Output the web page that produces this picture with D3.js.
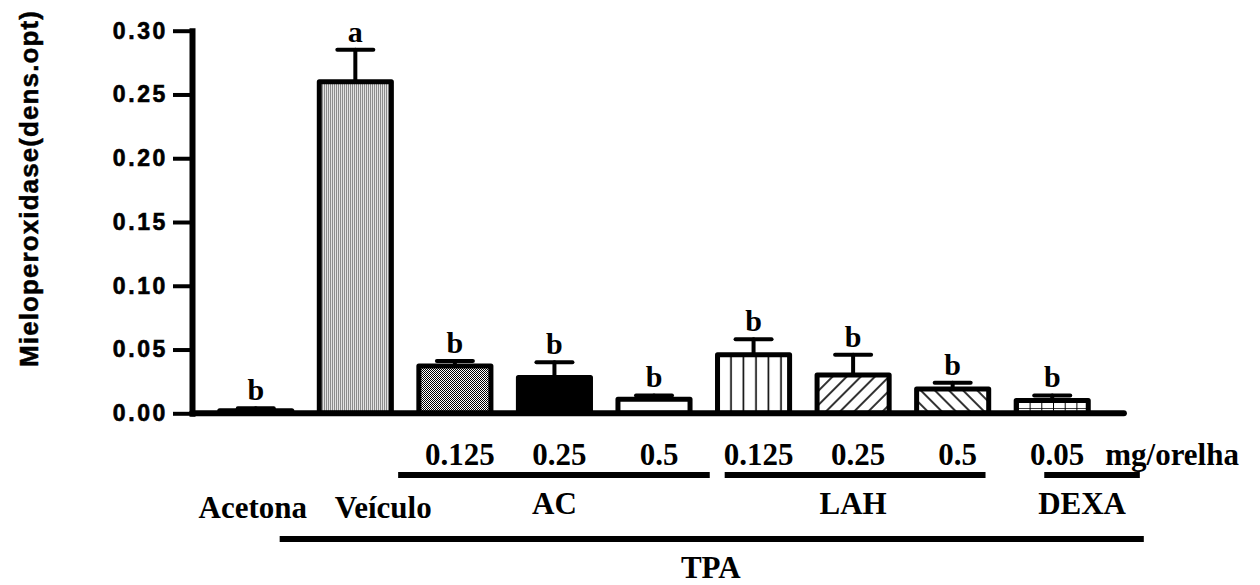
<!DOCTYPE html>
<html>
<head>
<meta charset="utf-8">
<script src="https://cdn.jsdelivr.net/npm/d3@7"></script>
<style>
  body { margin: 0; background: #fff; }
  svg { display: block; }
</style>
</head>
<body>
<svg id="chart" width="1260" height="585"></svg>
<script>
// ---- data ----
const groups = ["Acetona", "Veículo", "AC 0.125", "AC 0.25", "AC 0.5", "LAH 0.125", "LAH 0.25", "LAH 0.5", "DEXA 0.05"];
const means  = [0.002, 0.260, 0.037, 0.028, 0.011, 0.046, 0.030, 0.019, 0.010];
const errors = [0.002, 0.025, 0.004, 0.012, 0.003, 0.012, 0.016, 0.005, 0.004];
const letters = ["b", "a", "b", "b", "b", "b", "b", "b", "b"];
const fillKinds = ["blank", "dots", "checker", "solid", "blank", "vlines", "backslash", "slash", "grid"];
const doseLabels = ["", "", "0.125", "0.25", "0.5", "0.125", "0.25", "0.5", "0.05"];
const yTicks = [0, 0.05, 0.10, 0.15, 0.20, 0.25, 0.30];
const yTitle = "Mieloperoxidase(dens.opt)";
const doseUnit = "mg/orelha";
const vehicleLabels = ["Acetona", "Veículo"];
const treatmentNames = ["AC", "LAH", "DEXA"];
const inducerName = "TPA";

// ---- layout ----
const svg = d3.select("#chart");
const x = d3.scaleBand().domain(groups).range([206, 1102]).paddingInner(0.276).paddingOuter(0.138);
const y = d3.scaleLinear().domain([0, 0.30]).range([413.3, 30.7]);
const bw = x.bandwidth();
const cx = g => x(g) + bw / 2;
// continuous position along the category index, used for the bracket annotations
const xi = d3.scaleLinear().domain([0, groups.length - 1]).range([cx(groups[0]), cx(groups[groups.length - 1])]);

const serif = "'Liberation Serif', 'Times New Roman', serif";
const sans = "'Liberation Sans', Arial, sans-serif";

// ---- fill patterns ----
const defs = svg.append("defs");
const pat = (id, w, h) => defs.append("pattern").attr("id", id).attr("patternUnits", "userSpaceOnUse")
  .attr("width", w).attr("height", h);

let p = pat("dots", 2, 2);
p.append("rect").attr("width", 2).attr("height", 2).attr("fill", "#e2e2e2");
p.append("rect").attr("width", 1).attr("height", 2).attr("fill", "#8c8c8c");

p = pat("checker", 2, 2);
p.append("rect").attr("width", 2).attr("height", 2).attr("fill", "#fff");
p.append("rect").attr("width", 1).attr("height", 1).attr("fill", "#000");
p.append("rect").attr("x", 1).attr("y", 1).attr("width", 1).attr("height", 1).attr("fill", "#000");

p = pat("vlines", 12.5, 10);
p.append("rect").attr("width", 12.5).attr("height", 10).attr("fill", "#fff");
p.append("line").attr("x1", 6).attr("x2", 6).attr("y1", 0).attr("y2", 10).attr("stroke", "#000").attr("stroke-width", 1.6);

p = pat("backslash", 10, 10).attr("patternTransform", "rotate(45)");
p.append("rect").attr("width", 10).attr("height", 10).attr("fill", "#fff");
p.append("line").attr("x1", 5).attr("x2", 5).attr("y1", 0).attr("y2", 10).attr("stroke", "#000").attr("stroke-width", 1.6);

p = pat("slash", 10, 10).attr("patternTransform", "rotate(-45)");
p.append("rect").attr("width", 10).attr("height", 10).attr("fill", "#fff");
p.append("line").attr("x1", 5).attr("x2", 5).attr("y1", 0).attr("y2", 10).attr("stroke", "#000").attr("stroke-width", 1.6);

p = pat("grid", 11.7, 6);
p.append("rect").attr("width", 11.7).attr("height", 6).attr("fill", "#fff");
p.append("line").attr("x1", 0).attr("x2", 0).attr("y1", 0).attr("y2", 6).attr("stroke", "#000").attr("stroke-width", 2);
p.append("line").attr("x1", 0).attr("x2", 11.7).attr("y1", 0).attr("y2", 0).attr("stroke", "#000").attr("stroke-width", 1.5);

const fillFor = k => k === "solid" ? "#000" : k === "blank" ? "#fff" : `url(#${k})`;

const rows = groups.map((g, i) => ({ g, mean: means[i], err: errors[i], letter: letters[i], fill: fillKinds[i], dose: doseLabels[i] }));

// ---- error bars (upper only) ----
const eb = svg.append("g").attr("stroke", "#000").attr("stroke-linecap", "round");
eb.selectAll(".stem").data(rows).join("line")
  .attr("x1", d => cx(d.g)).attr("x2", d => cx(d.g))
  .attr("y1", d => y(d.mean)).attr("y2", d => y(d.mean + d.err))
  .attr("stroke-width", 4);
eb.selectAll(".cap").data(rows).join("line")
  .attr("x1", d => cx(d.g) - 18).attr("x2", d => cx(d.g) + 18)
  .attr("y1", d => y(d.mean + d.err)).attr("y2", d => y(d.mean + d.err))
  .attr("stroke-width", 4);

// ---- bars ----
svg.append("g").selectAll("rect").data(rows).join("rect")
  .attr("x", d => x(d.g)).attr("width", bw)
  .attr("y", d => y(d.mean)).attr("height", d => y(0) - y(d.mean))
  .attr("fill", d => fillFor(d.fill))
  .attr("stroke", "#000").attr("stroke-width", 5).attr("stroke-linejoin", "round");

// ---- significance letters ----
svg.append("g").selectAll("text").data(rows).join("text")
  .attr("x", d => cx(d.g)).attr("y", d => y(d.mean + d.err) - 8)
  .attr("text-anchor", "middle")
  .attr("font-family", serif).attr("font-weight", "bold").attr("font-size", 30)
  .text(d => d.letter);

// ---- axes ----
const yAxis = svg.append("g").attr("transform", "translate(192,0)")
  .call(d3.axisLeft(y).tickValues(yTicks).tickFormat(d3.format(".2f")).tickSize(19).tickSizeOuter(0).tickPadding(5));
yAxis.select(".domain").attr("stroke", "#000").attr("stroke-width", 6).attr("stroke-linecap", "square");
yAxis.selectAll(".tick line").attr("stroke", "#000").attr("stroke-width", 4);
yAxis.selectAll(".tick text")
  .attr("font-family", sans).attr("font-weight", "bold").attr("font-size", 23)
  .attr("letter-spacing", 2.6).attr("fill", "#000")
  .attr("stroke", "#000").attr("stroke-width", 0.6);

svg.append("line")
  .attr("x1", 192).attr("x2", xi(8.72)).attr("y1", y(0)).attr("y2", y(0))
  .attr("stroke", "#000").attr("stroke-width", 6).attr("stroke-linecap", "round");

svg.append("text")
  .attr("transform", "translate(38,188.5) rotate(-90)")
  .attr("text-anchor", "middle")
  .attr("font-family", sans).attr("font-weight", "bold").attr("font-size", 26)
  .attr("letter-spacing", 1.1)
  .attr("stroke", "#000").attr("stroke-width", 0.5)
  .text(yTitle);

// ---- dose row ----
const labelFont = sel => sel.attr("font-family", serif).attr("font-weight", "bold").attr("font-size", 31).attr("fill", "#000");
svg.append("g").selectAll("text").data(rows.filter(d => d.dose)).join("text")
  .attr("x", d => cx(d.g) + 5).attr("y", 465)
  .attr("text-anchor", "middle").call(labelFont)
  .text(d => d.dose);
svg.append("text").attr("x", xi(8) + 53).attr("y", 465).attr("text-anchor", "start").call(labelFont).text(doseUnit);

// ---- treatment brackets ----
const treatmentSpans = [[1.43, 4.56], [4.71, 7.33], [7.92, 8.88]];
const treatmentLabelAt = [3, 6, 8.3];
const br = svg.append("g");
br.selectAll("line").data(treatmentSpans).join("line")
  .attr("x1", d => xi(d[0])).attr("x2", d => xi(d[1]))
  .attr("y1", 475).attr("y2", 475)
  .attr("stroke", "#000").attr("stroke-width", 6);
br.selectAll("text").data(treatmentNames).join("text")
  .attr("x", (d, i) => xi(treatmentLabelAt[i])).attr("y", 514)
  .attr("text-anchor", "middle").call(labelFont).text(d => d);

// ---- vehicle labels ----
const vehicleAt = [-0.03, 1.28];
svg.append("g").selectAll("text").data(vehicleLabels).join("text")
  .attr("x", (d, i) => xi(vehicleAt[i])).attr("y", 518)
  .attr("text-anchor", "middle").call(labelFont).text(d => d);

// ---- inducer bracket ----
svg.append("line")
  .attr("x1", xi(0.24)).attr("x2", xi(8.92)).attr("y1", 539).attr("y2", 539)
  .attr("stroke", "#000").attr("stroke-width", 6);
svg.append("text").attr("x", xi(4.57)).attr("y", 578)
  .attr("text-anchor", "middle").call(labelFont).text(inducerName);
</script>
</body>
</html>
